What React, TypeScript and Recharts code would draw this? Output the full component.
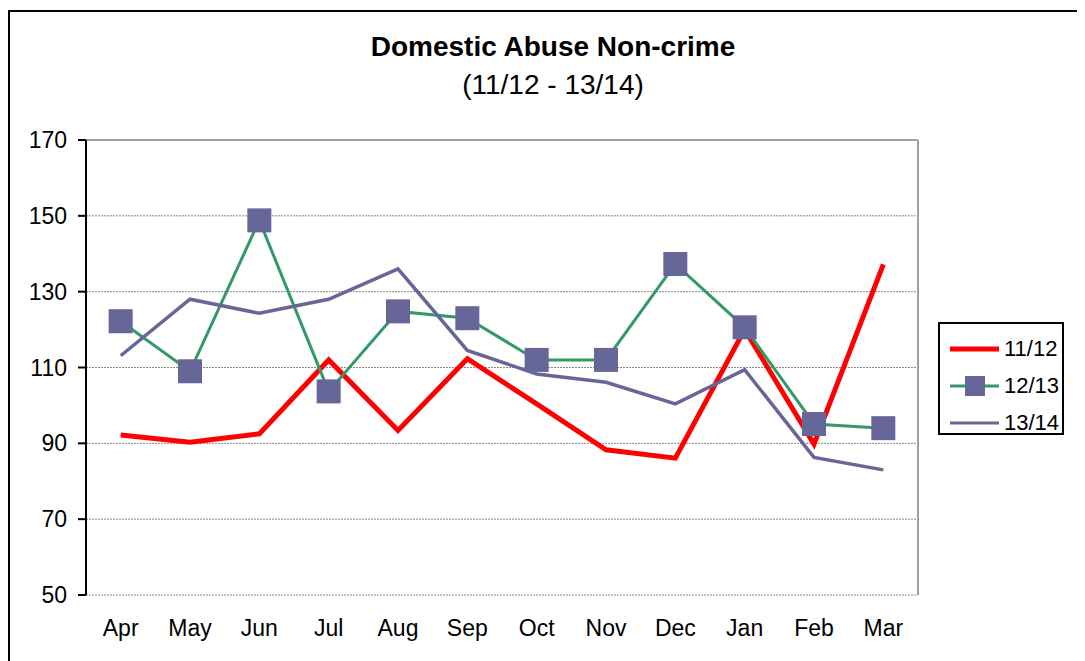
import React from 'react';
import {
  LineChart,
  Line,
  XAxis,
  YAxis,
  CartesianGrid,
  ReferenceLine,
  Legend,
} from 'recharts';

// Months of the financial year (April to March)
const months = ['Apr', 'May', 'Jun', 'Jul', 'Aug', 'Sep', 'Oct', 'Nov', 'Dec', 'Jan', 'Feb', 'Mar'];

// Monthly counts per financial year
const fy1112 = [92.2, 90.3, 92.5, 112.0, 93.4, 112.3, 100.4, 88.3, 86.1, 120.0, 89.8, 137.2];
const fy1213 = [122.2, 109.0, 148.8, 103.7, 124.8, 123.0, 112.0, 112.0, 137.3, 120.6, 95.1, 94.0];
const fy1314 = [113.1, 128.0, 124.3, 128.0, 136.0, 114.5, 108.3, 106.1, 100.4, 109.4, 86.3, 83.0];

const yTicks = [50, 70, 90, 110, 130, 150, 170];
// Boundaries between month bands (tick marks) and band centres (labels)
const bandEdges = months.map((_, i) => i).concat([months.length]);
const bandCentres = months.map((_, i) => i + 0.5);

const RED = '#FF0000';
const GREEN = '#339966';
const PURPLE = '#666699';
const FONT = 'Arial, "Liberation Sans", sans-serif';

const data = months.map((m, i) => ({
  pos: i + 0.5,
  month: m,
  a: fy1112[i],
  b: fy1213[i],
  c: fy1314[i],
}));

const SquareDot = (props: any) => {
  const { cx, cy, index } = props;
  if (cx == null || cy == null) return <g key={`sq-${index}`} />;
  return (
    <rect
      key={`sq-${index}`}
      x={cx - 12}
      y={cy - 12}
      width={24}
      height={24}
      fill={PURPLE}
    />
  );
};

const LegendBox = (props: any) => {
  const payload: any[] = props.payload || [];
  return (
    <div
      style={{
        boxSizing: 'border-box',
        width: 126,
        height: 113,
        border: '2px solid #000',
        background: '#fff',
        paddingTop: 6,
        fontFamily: FONT,
        fontSize: 22,
        color: '#000',
      }}
    >
      {payload.map((p) => (
        <div
          key={p.value}
          style={{ display: 'flex', alignItems: 'center', height: 37 }}
        >
          <svg width={62} height={30} style={{ marginLeft: 8 }}>
            <line
              x1={2}
              x2={51}
              y1={15}
              y2={15}
              stroke={p.color}
              strokeWidth={p.value === '11/12' ? 5 : 3}
            />
            {p.value === '12/13' && (
              <rect x={17} y={5} width={20} height={20} fill={PURPLE} />
            )}
          </svg>
          <span style={{ marginLeft: -6 }}>{p.value}</span>
        </div>
      ))}
    </div>
  );
};

export default function App() {
  return (
    <div style={{ position: 'relative', width: 1077, height: 653 }}>
      <style>{'html,body{overflow:hidden}'}</style>
      <div
        style={{
          position: 'absolute',
          left: 0,
          top: 2,
          width: 1100,
          height: 700,
          border: '2px solid #000',
          boxSizing: 'border-box',
        }}
      />
      <div
        style={{
          position: 'absolute',
          left: 0,
          width: 1090,
          top: 20,
          textAlign: 'center',
          fontFamily: FONT,
          fontSize: 28,
          lineHeight: '38px',
          color: '#000',
        }}
      >
        <div style={{ fontWeight: 'bold' }}>Domestic Abuse Non-crime</div>
        <div>(11/12 - 13/14)</div>
      </div>
      <div style={{ position: 'absolute', left: 0, top: 0 }}>
        <LineChart
          width={1077}
          height={653}
          data={data}
          margin={{ top: 132, right: 167, bottom: 6, left: 18 }}
        >
          <CartesianGrid
            horizontal
            vertical={false}
            stroke="#888"
            strokeDasharray="2 1"
            xAxisId="edges"
          />
          <XAxis
            xAxisId="edges"
            type="number"
            dataKey="pos"
            domain={[0, months.length]}
            ticks={bandEdges}
            interval={0}
            tickFormatter={() => ''}
            height={0}
            tickSize={7}
            axisLine={{ stroke: '#000', strokeWidth: 2 }}
            tickLine={{ stroke: '#000', strokeWidth: 2 }}
          />
          <XAxis
            xAxisId="labels"
            type="number"
            dataKey="pos"
            domain={[0, months.length]}
            ticks={bandCentres}
            interval={0}
            tickFormatter={(v: number) => months[Math.floor(v)]}
            height={60}
            tickSize={0}
            tickMargin={25}
            axisLine={false}
            tickLine={false}
            tick={{ fill: '#000', fontSize: 23, fontFamily: FONT }}
          />
          <YAxis
            type="number"
            domain={[50, 170]}
            ticks={yTicks}
            interval={0}
            width={60}
            tickSize={8}
            tickMargin={11}
            axisLine={{ stroke: '#000', strokeWidth: 2 }}
            tickLine={{ stroke: '#000', strokeWidth: 2 }}
            tick={{ fill: '#000', fontSize: 23, fontFamily: FONT }}
          />
          <ReferenceLine xAxisId="edges" y={170} stroke="#a0a0a0" strokeWidth={2} />
          <ReferenceLine xAxisId="edges" x={months.length} stroke="#a0a0a0" strokeWidth={2} />
          <Legend
            align="center"
            verticalAlign="middle"
            content={<LegendBox />}
            wrapperStyle={{ position: 'absolute', left: 930, top: 314, width: 126, height: 113 }}
          />
          <Line
            xAxisId="edges"
            type="linear"
            dataKey="a"
            name="11/12"
            stroke={RED}
            strokeWidth={5}
            dot={false}
            activeDot={false}
            isAnimationActive={false}
          />
          <Line
            xAxisId="edges"
            type="linear"
            dataKey="b"
            name="12/13"
            stroke={GREEN}
            strokeWidth={3}
            dot={SquareDot}
            activeDot={false}
            isAnimationActive={false}
          />
          <Line
            xAxisId="edges"
            type="linear"
            dataKey="c"
            name="13/14"
            stroke={PURPLE}
            strokeWidth={3.5}
            dot={false}
            activeDot={false}
            isAnimationActive={false}
          />
        </LineChart>
      </div>
    </div>
  );
}
